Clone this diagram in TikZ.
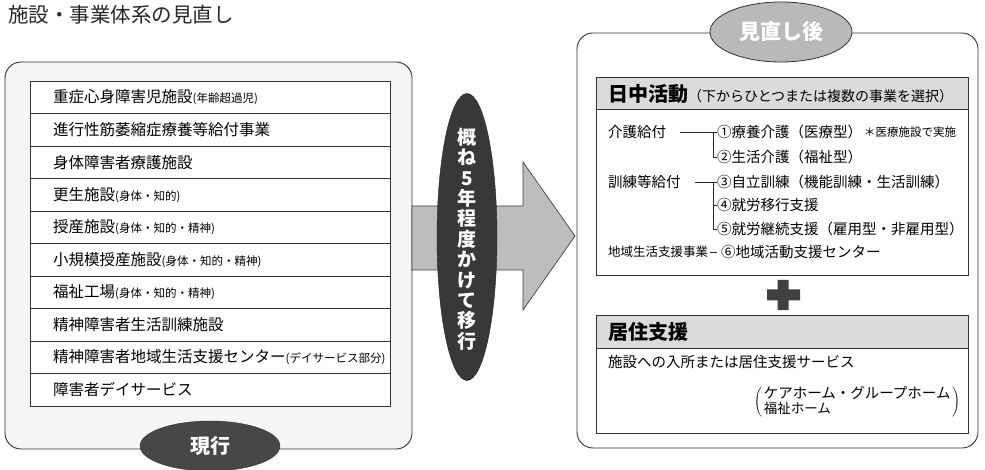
\documentclass[tikz,border=0pt]{standalone}
\usepackage{fontspec}
\setmainfont{Noto Sans CJK JP}
\usetikzlibrary{shapes.geometric}
\newcommand\fsz[1]{\fontsize{#1}{#1}\selectfont}
\begin{document}
\begin{tikzpicture}[x=1pt,y=-1pt,
  panel/.style={draw=black!80, line width=0.9pt, rounded corners=16pt},
  tline/.style={draw=black!80, line width=0.8pt},
  rowtxt/.style={anchor=west, inner sep=0pt, font=\fsz{15.5}},
  rtxt/.style={anchor=west, inner sep=0pt, font=\fsz{14.5}},
  conn/.style={draw=black!85, line width=0.7pt},
  hdr/.style={fill=gray!28, draw=black!80, line width=0.8pt}]
\useasboundingbox (0,0) rectangle (985,470);

% title
\node[anchor=west, inner sep=0pt, font=\fsz{20.5}, text=black!85] (title) at (8,15) {施設・事業体系の見直し};

% ---------- left panel ----------
\path[panel, fill=gray!8] (5,62) rectangle (412,449);
\path[fill=white, tline] (30,81) rectangle (390,406);
\foreach \i in {1,...,9} \draw[tline] (30,{81+32.5*\i}) -- (390,{81+32.5*\i});
\node[rowtxt] (L1) at (53,97.25) {重症心身障害児施設{\fsz{11.5}(年齢超過児)}};
\node[rowtxt] (L2) at (53,129.75) {進行性筋萎縮症療養等給付事業};
\node[rowtxt] (L3) at (53,162.25) {身体障害者療護施設};
\node[rowtxt] (L4) at (53,194.75) {更生施設{\fsz{11.5}(身体・知的)}};
\node[rowtxt] (L5) at (53,227.25) {授産施設{\fsz{11.5}(身体・知的・精神)}};
\node[rowtxt] (L6) at (53,259.75) {小規模授産施設{\fsz{11.5}(身体・知的・精神)}};
\node[rowtxt] (L7) at (53,292.25) {福祉工場{\fsz{11.5}(身体・知的・精神)}};
\node[rowtxt] (L8) at (53,324.75) {精神障害者生活訓練施設};
\node[rowtxt] (L9) at (53,357.25) {精神障害者地域生活支援センター{\fsz{11.5}(デイサービス部分)}};
\node[rowtxt] (L10) at (53,389.75) {障害者デイサービス};

\node[ellipse, fill=black!72, draw=black!80, minimum width=140pt, minimum height=50pt, inner sep=0pt,
  text=white, font=\bfseries\fsz{20}] (genko) at (210,446) {現行};

% ---------- middle arrow ----------
\path[fill=gray!52, draw=black!75, line width=0.7pt]
  (412,206) -- (523,206) -- (523,162) -- (575,236) -- (523,310) -- (523,270) -- (412,270) -- cycle;
\node[ellipse, fill=black!78, draw=black!85, minimum width=60pt, minimum height=287pt, inner sep=0pt] (mid) at (467,237) {};
\node[align=center, inner sep=0pt, text=white, font=\bfseries\fontsize{19}{20.4}\selectfont] (midtxt) at (467,239)
  {概\\ね\\5\\年\\程\\度\\か\\け\\て\\移\\行};

% ---------- right panel ----------
\path[panel, fill=white] (577,33) rectangle (978,448);
\node[ellipse, fill=gray!55, draw=black!80, line width=0.8pt, minimum width=142pt, minimum height=60pt, inner sep=0pt,
  text=white, font=\bfseries\fsz{21}] (minaoshi) at (781,32) {見直し後};

% box 1
\path[fill=white, tline] (596,77) rectangle (968,275);
\path[hdr] (596,77) rectangle (968,109);
\node[anchor=west, inner sep=0pt] (nitchu) at (608,94) {{\bfseries\fsz{20}日中活動}{\fsz{14}（下からひとつまたは複数の事業を選択）}};

\node[rtxt] (kaigo) at (608,132) {介護給付};
\node[rtxt] (r1) at (717,132) {①療養介護（医療型）};
\node[anchor=west, inner sep=0pt, font=\fsz{11.5}] (r1n) at (864,132) {＊医療施設で実施};
\node[rtxt] (r2) at (717,157) {②生活介護（福祉型）};
\node[rtxt] (kunren) at (608,182) {訓練等給付};
\node[rtxt] (r3) at (717,182) {③自立訓練（機能訓練・生活訓練）};
\node[rtxt] (r4) at (717,205) {④就労移行支援};
\node[rtxt] (r5) at (717,229) {⑤就労継続支援（雇用型・非雇用型）};
\node[anchor=west, inner sep=0pt, font=\fsz{12.5}] (chiiki) at (608,252) {地域生活支援事業};
\node[rtxt] (r6) at (721,252) {⑥地域活動支援センター};

\coordinate (k1s) at (680,132);
\coordinate (k1j) at (713,132);
\coordinate (k1b) at (713,157);
\coordinate (k2s) at (695,182);
\coordinate (k2j) at (713,182);
\coordinate (k2m) at (713,205);
\coordinate (k2b) at (713,229);
\coordinate (c1s) at (710,252);
\coordinate (c1e) at (717,252);
\draw[conn] (k1s) -- (r1.west);
\draw[conn] (k1j) -- (k1b) -- (r2.west);
\draw[conn] (k2s) -- (r3.west);
\draw[conn] (k2j) -- (k2b) -- (r5.west);
\draw[conn] (k2m) -- (r4.west);
\draw[conn] (c1s) -- (c1e);

% plus
\path[fill=black!75] (767,289.5) -- (777.5,289.5) -- (777.5,280) -- (788.5,280) -- (788.5,289.5) -- (800,289.5)
  -- (800,300.5) -- (788.5,300.5) -- (788.5,310) -- (777.5,310) -- (777.5,300.5) -- (767,300.5) -- cycle;

% box 2
\path[fill=white, tline] (596,315) rectangle (968,433);
\path[hdr] (596,315) rectangle (968,348);
\node[anchor=west, inner sep=0pt, font=\bfseries\fsz{20}] (kyoju) at (608,332) {居住支援};
\node[rtxt] (nyusho) at (608,362) {施設への入所または居住支援サービス};
\node[anchor=west, inner sep=0pt] (homes) at (754,402)
  {$\left(\begin{tabular}{@{\,}l@{\,}}\fontsize{14.5}{19}\selectfont ケアホーム・グループホーム\\ \fontsize{13.5}{19}\selectfont 福祉ホーム\end{tabular}\right)$};
\end{tikzpicture}
\end{document}
